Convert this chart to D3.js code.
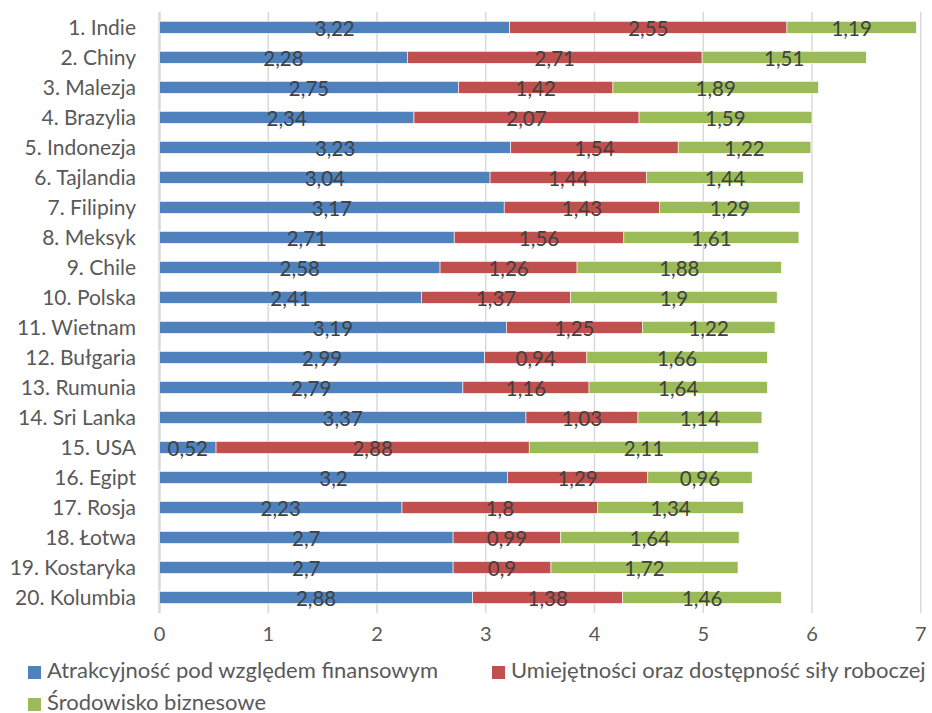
<!DOCTYPE html>
<html>
<head>
<meta charset="utf-8">
<script src="https://cdn.jsdelivr.net/npm/d3@7"></script>
<style>
  body { margin: 0; background: #fff; }
  text { font-family: Lato, "Open Sans", sans-serif; }
</style>
</head>
<body>
<div id="chart"></div>
<script>
var categories = ["1. Indie", "2. Chiny", "3. Malezja", "4. Brazylia", "5. Indonezja",
  "6. Tajlandia", "7. Filipiny", "8. Meksyk", "9. Chile", "10. Polska",
  "11. Wietnam", "12. Bułgaria", "13. Rumunia", "14. Sri Lanka", "15. USA",
  "16. Egipt", "17. Rosja", "18. Łotwa", "19. Kostaryka", "20. Kolumbia"];
var finansowa = [3.22, 2.28, 2.75, 2.34, 3.23, 3.04, 3.17, 2.71, 2.58, 2.41,
  3.19, 2.99, 2.79, 3.37, 0.52, 3.2, 2.23, 2.7, 2.7, 2.88];
var umiejetnosci = [2.55, 2.71, 1.42, 2.07, 1.54, 1.44, 1.43, 1.56, 1.26, 1.37,
  1.25, 0.94, 1.16, 1.03, 2.88, 1.29, 1.8, 0.99, 0.9, 1.38];
var srodowisko = [1.19, 1.51, 1.89, 1.59, 1.22, 1.44, 1.29, 1.61, 1.88, 1.9,
  1.22, 1.66, 1.64, 1.14, 2.11, 0.96, 1.34, 1.64, 1.72, 1.46];
var seriesNames = ["Atrakcyjność pod względem finansowym",
  "Umiejętności oraz dostępność siły roboczej", "Środowisko biznesowe"];
var colors = ["#4f81bd", "#c0504d", "#9bbb59"];
var xTicks = [0, 1, 2, 3, 4, 5, 6, 7];

var width = 932, height = 713;

var svg = d3.select("#chart").append("svg")
  .attr("width", width)
  .attr("height", height);

//Scales
var x = d3.scaleLinear().domain([0, 7]).range([159.5, 920.7]);
var y = d3.scaleBand().domain(categories).range([12.3, 612.5]).paddingInner(0.6).paddingOuter(0.3);

//Gridlines
svg.append("g").selectAll("line")
  .data(xTicks)
  .enter()
  .append("line")
  .attr("x1", d => x(d))
  .attr("x2", d => x(d))
  .attr("y1", 12)
  .attr("y2", 613)
  .attr("stroke", "#d9d9d9")
  .attr("stroke-width", d => d === 0 ? 2.5 : 1.5);

//Stack data
var rows = categories.map(function(c, i) {
  return { cat: c, a: finansowa[i], b: umiejetnosci[i], c: srodowisko[i] };
});
var stack = d3.stack().keys(["a", "b", "c"])(rows);

var layers = svg.append("g").selectAll("g")
  .data(stack)
  .enter()
  .append("g")
  .attr("fill", (d, i) => colors[i]);

layers.selectAll("rect")
  .data(d => d)
  .enter()
  .append("rect")
  .attr("x", d => x(d[0]))
  .attr("y", d => y(d.data.cat))
  .attr("width", d => x(d[1]) - x(d[0]))
  .attr("height", y.bandwidth())
  .attr("stroke", "#fff")
  .attr("stroke-width", 0.6);

//Data labels
layers.selectAll("text")
  .data(d => d)
  .enter()
  .append("text")
  .attr("x", d => (x(d[0]) + x(d[1])) / 2)
  .attr("y", d => y(d.data.cat) + y.bandwidth() / 2 + 8.5)
  .attr("text-anchor", "middle")
  .attr("fill", "#404040")
  .attr("font-size", 20.5)
  .text(d => String(+(d[1] - d[0]).toFixed(2)).replace(".", ","));

//Category labels
svg.append("g").selectAll("text")
  .data(categories)
  .enter()
  .append("text")
  .attr("x", 136)
  .attr("y", d => y(d) + y.bandwidth() / 2 + 7.5)
  .attr("text-anchor", "end")
  .attr("fill", "#595959")
  .attr("font-size", 21)
  .text(d => d);

//X axis labels
svg.append("g").selectAll("text")
  .data(xTicks)
  .enter()
  .append("text")
  .attr("x", d => x(d))
  .attr("y", 641)
  .attr("text-anchor", "middle")
  .attr("fill", "#595959")
  .attr("font-size", 20)
  .text(d => d);

//Legend
var legendPos = [[28, 666], [492, 666], [28, 698]];
var legend = svg.append("g").selectAll("g")
  .data(seriesNames)
  .enter()
  .append("g")
  .attr("transform", (d, i) => "translate(" + legendPos[i][0] + "," + legendPos[i][1] + ")");

legend.append("rect")
  .attr("width", 13)
  .attr("height", 13)
  .attr("fill", (d, i) => colors[i]);

legend.append("text")
  .attr("x", 19)
  .attr("y", 12)
  .attr("fill", "#595959")
  .attr("font-size", 22)
  .text(d => d);
</script>
</body>
</html>
